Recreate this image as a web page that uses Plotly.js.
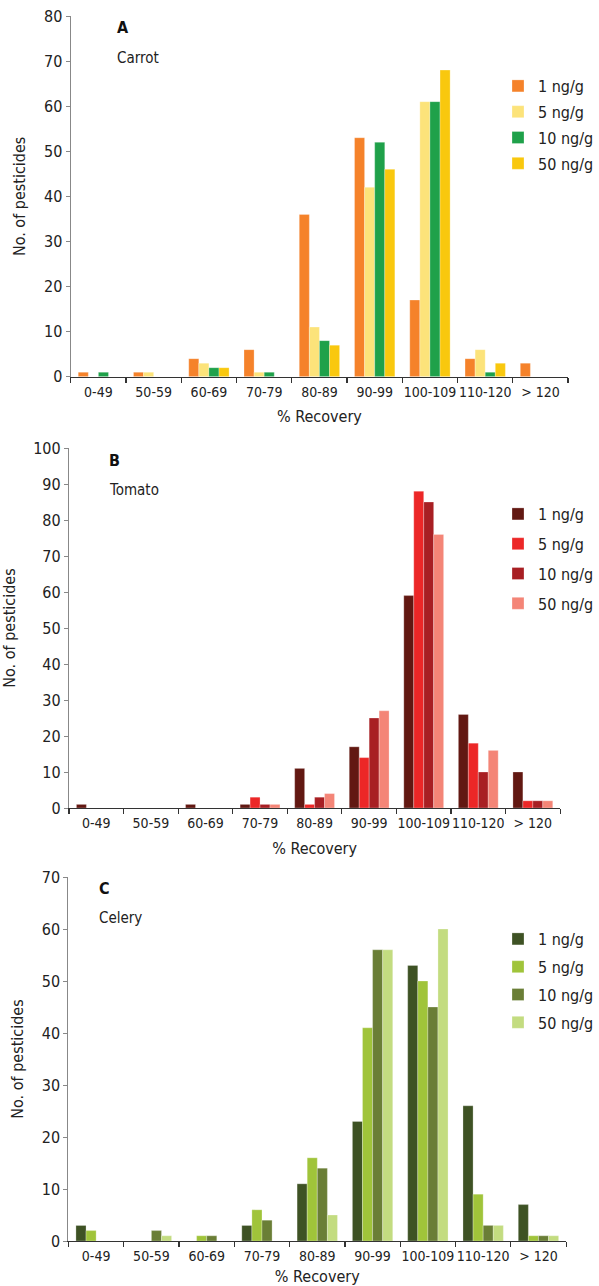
<!DOCTYPE html>
<html>
<head>
<meta charset="utf-8">
<script src="https://cdn.plot.ly/plotly-3.0.1.min.js"></script>
<style>html,body{margin:0;padding:0;background:#fff;}#chart{width:599px;height:1286px;}</style>
</head>
<body>
<div id="chart"></div>
<script>
const categories = ["0-49","50-59","60-69","70-79","80-89","90-99","100-109","110-120","> 120"];
const seriesNames = ["1 ng/g","5 ng/g","10 ng/g","50 ng/g"];

// Panel A: Carrot
const carrot_1 = [1, 1, 4, 6, 36, 53, 17, 4, 3];
const carrot_5 = [0, 1, 3, 1, 11, 42, 61, 6, 0];
const carrot_10 = [1, 0, 2, 1, 8, 52, 61, 1, 0];
const carrot_50 = [0, 0, 2, 0, 7, 46, 68, 3, 0];

// Panel B: Tomato
const tomato_1 = [1, 0, 1, 1, 11, 17, 59, 26, 10];
const tomato_5 = [0, 0, 0, 3, 1, 14, 88, 18, 2];
const tomato_10 = [0, 0, 0, 1, 3, 25, 85, 10, 2];
const tomato_50 = [0, 0, 0, 1, 4, 27, 76, 16, 2];

// Panel C: Celery
const celery_1 = [3, 0, 0, 3, 11, 23, 53, 26, 7];
const celery_5 = [2, 0, 1, 6, 16, 41, 50, 9, 1];
const celery_10 = [0, 2, 1, 4, 14, 56, 45, 3, 1];
const celery_50 = [0, 1, 0, 0, 5, 56, 60, 3, 1];

const carrotColors = ["#F5822A", "#FCE37A", "#1FA14A", "#F9C80E"];
const tomatoColors = ["#621812", "#EC2727", "#A81F23", "#F48577"];
const celeryColors = ["#3E5224", "#A0C43A", "#6A7E36", "#C3DC80"];

const FONT = "'DejaVu Sans Condensed', 'Liberation Sans Narrow', sans-serif";

function makeTraces(seriesList, colors, xa, ya, legendId) {
  return seriesList.map((vals, i) => ({
    type: "bar",
    x: categories,
    y: vals,
    name: seriesNames[i],
    xaxis: xa,
    yaxis: ya,
    legend: legendId,
    legendgroup: legendId + "_" + i,
    marker: {color: colors[i], line: {color: "rgba(255,255,255,0.45)", width: 0.6}},
    hoverinfo: "x+y+name"
  }));
}

const traces = [
  ...makeTraces([carrot_1, carrot_5, carrot_10, carrot_50], carrotColors, "x", "y", "legend"),
  ...makeTraces([tomato_1, tomato_5, tomato_10, tomato_50], tomatoColors, "x2", "y2", "legend2"),
  ...makeTraces([celery_1, celery_5, celery_10, celery_50], celeryColors, "x3", "y3", "legend3")
];

const H = 1286, W = 599;
function px(x) { return x / W; }
function py(y) { return 1 - y / H; }

function xaxis(d, anchor) {
  return {
    domain: d, anchor: anchor, type: "category",
    showline: true, linecolor: "#333", linewidth: 1.2,
    ticks: "outside", ticklen: 5, tickcolor: "#333", tickwidth: 1.2,
    tickson: "boundaries", tickangle: 0, ticklabelstandoff: 2,
    tickfont: {family: FONT, size: 14, color: "#222"},
    showgrid: false, zeroline: false, fixedrange: true,
    title: {text: "% Recovery", font: {family: FONT, size: 16, color: "#222"}, standoff: 12}
  };
}
function yaxis(d, anchor, maxv) {
  return {
    domain: d, anchor: anchor, range: [0, maxv], dtick: 10,
    showline: true, linecolor: "#888", linewidth: 1.2,
    ticks: "outside", ticklen: 4, tickcolor: "#888", tickwidth: 1,
    tickfont: {family: FONT, size: 16, color: "#222"},
    showgrid: false, zeroline: false, fixedrange: true,
    title: {text: "No. of pesticides", font: {family: FONT, size: 16, color: "#222"}, standoff: 14}
  };
}
function legend(xp, yp, gap) {
  return {
    x: px(xp), y: py(yp), xanchor: "left", yanchor: "top",
    font: {family: FONT, size: 16, color: "#222"},
    bgcolor: "rgba(0,0,0,0)", tracegroupgap: gap, itemwidth: 30
  };
}

const layout = {
  width: W, height: H,
  margin: {l: 0, r: 0, t: 0, b: 0},
  paper_bgcolor: "#fff", plot_bgcolor: "#fff",
  barmode: "group", bargap: 0.27, bargroupgap: 0,
  showlegend: true,
  xaxis: xaxis([px(71), px(570)], "y"),
  yaxis: yaxis([py(376.7), py(16)], "x", 80),
  xaxis2: xaxis([px(69.3), px(562)], "y2"),
  yaxis2: yaxis([py(808), py(448)], "x2", 100),
  xaxis3: xaxis([px(68.7), px(568)], "y3"),
  yaxis3: yaxis([py(1241), py(877)], "x3", 70),
  legend: legend(500, 69, 2),
  legend2: legend(500, 497, 6),
  legend3: legend(500, 922, 4),
  annotations: [
    {text: "<b>A</b>", x: px(115), y: py(28), xref: "paper", yref: "paper", xanchor: "left", yanchor: "middle", showarrow: false, font: {family: FONT, size: 16, color: "#111"}},
    {text: "Carrot", x: px(115), y: py(58), xref: "paper", yref: "paper", xanchor: "left", yanchor: "middle", showarrow: false, font: {family: FONT, size: 15, color: "#222"}},
    {text: "<b>B</b>", x: px(107), y: py(460), xref: "paper", yref: "paper", xanchor: "left", yanchor: "middle", showarrow: false, font: {family: FONT, size: 16, color: "#111"}},
    {text: "Tomato", x: px(107), y: py(490), xref: "paper", yref: "paper", xanchor: "left", yanchor: "middle", showarrow: false, font: {family: FONT, size: 15, color: "#222"}},
    {text: "<b>C</b>", x: px(97), y: py(888), xref: "paper", yref: "paper", xanchor: "left", yanchor: "middle", showarrow: false, font: {family: FONT, size: 16, color: "#111"}},
    {text: "Celery", x: px(97), y: py(918), xref: "paper", yref: "paper", xanchor: "left", yanchor: "middle", showarrow: false, font: {family: FONT, size: 15, color: "#222"}}
  ]
};

Plotly.newPlot("chart", traces, layout, {staticPlot: true, displayModeBar: false});
</script>
</body>
</html>
